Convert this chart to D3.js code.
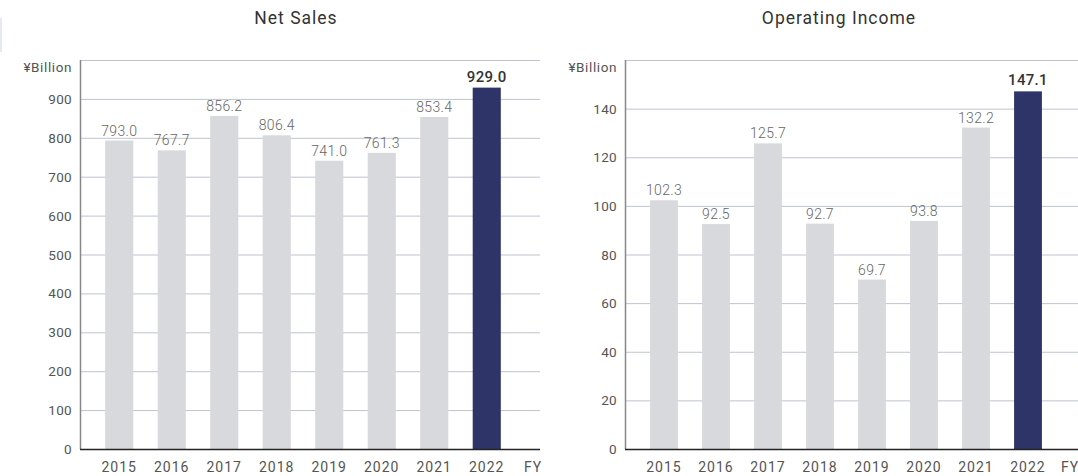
<!DOCTYPE html>
<html><head><meta charset="utf-8">
<script src="https://cdn.jsdelivr.net/npm/d3@7"></script>
<style>
body{margin:0;background:#fff;}
svg{display:block;font-family:Roboto, "DejaVu Sans", sans-serif;}
</style></head>
<body><svg id="c" width="1078" height="476"></svg>
<script>
const years = ["2015","2016","2017","2018","2019","2020","2021","2022"];
const netSales = [793.0,767.7,856.2,806.4,741.0,761.3,853.4,929.0];
const opIncome = [102.3,92.5,125.7,92.7,69.7,93.8,132.2,147.1];
const netTicks = [0,100,200,300,400,500,600,700,800,900,1000];
const opTicks = [0,20,40,60,80,100,120,140,160];

const svg = d3.select("#c");
svg.append("rect").attr("x",0).attr("y",18).attr("width",2).attr("height",34).attr("fill","#e6e8f4");

function panel(cfg){
  const g = svg.append("g");
  const y = d3.scaleLinear().domain(cfg.domain).range([449,60]);
  const x = d3.scaleBand().domain(years).range(cfg.xr).paddingInner(0.465).paddingOuter(0.2325);
  g.selectAll("line.grid").data(cfg.ticks.filter(t=>t>0)).join("line")
    .attr("x1",cfg.ax).attr("x2",cfg.gx2).attr("y1",d=>y(d)+0.5).attr("y2",d=>y(d)+0.5)
    .attr("stroke","#bfc3cf").attr("stroke-width",1);
  g.selectAll("text.tk").data(cfg.ticks.filter(t=>t<cfg.domain[1])).join("text")
    .attr("x",cfg.ax-8).attr("y",d=>y(d)+5).attr("text-anchor","end")
    .attr("font-size",13.5).attr("fill","#555").attr("letter-spacing",0.3).text(d=>d);
  g.append("text").attr("x",cfg.ax-8).attr("y",y(cfg.domain[1])+12).attr("text-anchor","end")
    .attr("font-size",13.5).attr("fill","#555").attr("letter-spacing",0.6).text("¥Billion");
  g.selectAll("rect.bar").data(cfg.values).join("rect")
    .attr("x",(d,i)=>x(years[i])).attr("width",x.bandwidth())
    .attr("y",d=>y(d)).attr("height",d=>y(0)-y(d))
    .attr("fill",(d,i)=>i===years.length-1?"#2e3468":"#d8d9dc");
  g.selectAll("text.val").data(cfg.values).join("text")
    .attr("x",(d,i)=>x(years[i])+x.bandwidth()/2).attr("y",d=>y(d))
    .attr("dy",(d,i)=>i===years.length-1?-6:-5)
    .attr("text-anchor","middle")
    .attr("font-size",(d,i)=>i===years.length-1?15:14)
    .attr("font-weight",(d,i)=>i===years.length-1?500:300)
    .attr("letter-spacing",0.3)
    .attr("fill",(d,i)=>i===years.length-1?"#333":"#666")
    .text(d=>d.toFixed(1));
  g.append("line").attr("x1",cfg.ax+0.5).attr("x2",cfg.ax+0.5).attr("y1",60).attr("y2",449)
    .attr("stroke","#888").attr("stroke-width",1.5);
  g.append("line").attr("x1",cfg.ax).attr("x2",cfg.gx2).attr("y1",449.5).attr("y2",449.5)
    .attr("stroke","#222").attr("stroke-width",1.5);
  g.selectAll("text.xl").data(years).join("text")
    .attr("x",d=>x(d)+x.bandwidth()/2).attr("y",472).attr("text-anchor","middle")
    .attr("font-size",14).attr("letter-spacing",1).attr("fill","#555").text(d=>d);
  g.append("text").attr("x",cfg.fyx).attr("y",472).attr("text-anchor","middle")
    .attr("font-size",14).attr("letter-spacing",1).attr("fill","#555").text("FY");
  g.append("text").attr("x",cfg.tx).attr("y",24).attr("text-anchor","middle")
    .attr("font-size",17.5).attr("letter-spacing",1).attr("fill","#333").text(cfg.title);
}

panel({title:"Net Sales",tx:296,values:netSales,ticks:netTicks,domain:[0,1000],ax:80,gx2:540,xr:[93,513],fyx:533});
panel({title:"Operating Income",tx:839,values:opIncome,ticks:opTicks,domain:[0,160],ax:625,gx2:1078,xr:[638,1054],fyx:1070});
</script></body></html>
